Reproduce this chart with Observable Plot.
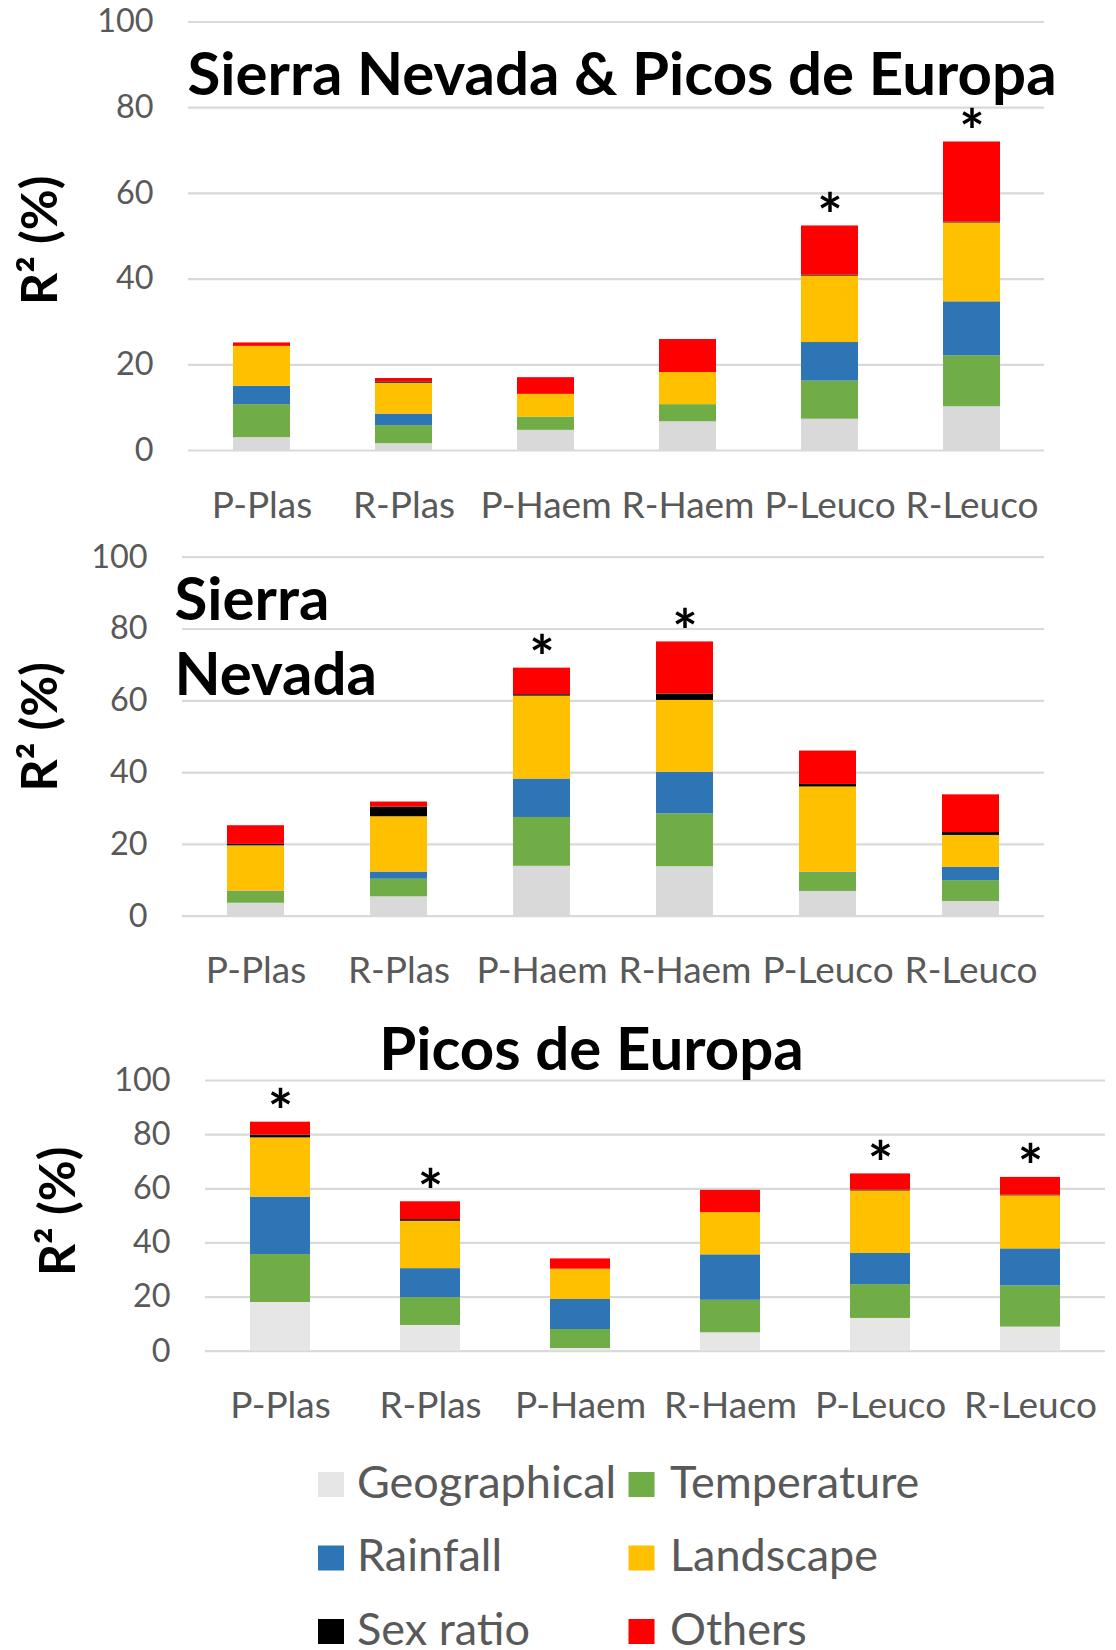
<!DOCTYPE html>
<html>
<head>
<meta charset="utf-8">
<script src="https://cdn.jsdelivr.net/npm/d3@7"></script>
<script src="https://cdn.jsdelivr.net/npm/@observablehq/plot@0.6"></script>
<style>
  body { margin: 0; background: #ffffff; }
  #wrap { position: relative; width: 1116px; height: 1650px; overflow: hidden; background: #ffffff; }
  #wrap > svg { position: absolute; left: 0; }
</style>
</head>
<body>
<div id="wrap"></div>
<script>
// ---------- data ----------
const categories = ["P-Plas", "R-Plas", "P-Haem", "R-Haem", "P-Leuco", "R-Leuco"];
const series = ["Geographical", "Temperature", "Rainfall", "Landscape", "Sex ratio", "Others"];
const yTicks = [0, 20, 40, 60, 80, 100];

// Panel 1: Sierra Nevada & Picos de Europa (R² %, per component)
const both_geographical = [3.0, 1.6, 4.7, 6.7, 7.3, 10.2];
const both_temperature  = [7.7, 4.2, 3.1, 4.0, 8.9, 11.9];
const both_rainfall     = [4.3, 2.7, 0.0, 0.0, 9.0, 12.6];
const both_landscape    = [9.3, 7.2, 5.3, 7.5, 15.5, 18.4];
const both_sexratio     = [0.0, 0.3, 0.0, 0.0, 0.2, 0.2];
const both_others       = [0.8, 0.8, 3.9, 7.7, 11.5, 18.7];
const both_significant  = [false, false, false, false, true, true];

// Panel 2: Sierra Nevada
const sn_geographical = [3.6, 5.4, 13.9, 13.8, 6.9, 4.1];
const sn_temperature  = [3.1, 4.9, 13.6, 14.7, 5.1, 5.8];
const sn_rainfall     = [0.2, 2.0, 10.7, 11.6, 0.2, 3.7];
const sn_landscape    = [12.7, 15.4, 23.1, 20.0, 23.8, 8.9];
const sn_sexratio     = [0.4, 2.7, 0.4, 1.8, 0.7, 0.8];
const sn_others       = [5.2, 1.4, 7.4, 14.5, 9.3, 10.5];
const sn_significant  = [false, false, true, true, false, false];

// Panel 3: Picos de Europa
const pe_geographical = [18.0, 9.5, 1.0, 6.8, 12.1, 8.9];
const pe_temperature  = [17.7, 10.3, 7.0, 12.0, 12.5, 15.2];
const pe_rainfall     = [21.2, 10.7, 11.1, 16.8, 11.5, 13.7];
const pe_landscape    = [21.9, 17.5, 11.2, 15.6, 23.1, 19.6];
const pe_sexratio     = [1.0, 0.6, 0.0, 0.0, 0.3, 0.2];
const pe_others       = [4.8, 6.6, 3.8, 8.2, 6.0, 6.6];
const pe_significant  = [true, true, false, false, true, true];

// ---------- styles ----------
const FONT = "Lato, 'Open Sans', sans-serif";
const TEXT_GREY = "#595959";
const colorsDark  = ["#D9D9D9", "#70AD47", "#2E75B6", "#FFC000", "#000000", "#FF0000"];
const colorsLight = ["#E7E6E6", "#70AD47", "#2E75B6", "#FFC000", "#000000", "#FF0000"];

const panels = [
  {
    title: "Sierra Nevada & Picos de Europa",
    values: [both_geographical, both_temperature, both_rainfall, both_landscape, both_sexratio, both_others],
    sig: both_significant,
    colors: colorsDark,
    top: 0, height: 540,
    marginTop: 21.5, marginBottom: 90, marginLeft: 188, marginRight: 72,
    titleOpts: {frameAnchor: "top-left", textAnchor: "start", lineAnchor: "bottom", dx: -1, dy: 73},
    ylabel: {dx: -148, dy: 4}
  },
  {
    title: "Sierra\nNevada",
    values: [sn_geographical, sn_temperature, sn_rainfall, sn_landscape, sn_sexratio, sn_others],
    sig: sn_significant,
    colors: colorsDark,
    top: 540, height: 460,
    marginTop: 16.7, marginBottom: 84.3, marginLeft: 182, marginRight: 72,
    titleOpts: {frameAnchor: "top-left", textAnchor: "start", lineAnchor: "top", lineHeight: 1.25, dx: -8, dy: 10},
    ylabel: {dx: -141.5, dy: -10}
  },
  {
    title: "Picos de Europa",
    values: [pe_geographical, pe_temperature, pe_rainfall, pe_landscape, pe_sexratio, pe_others],
    sig: pe_significant,
    colors: colorsLight,
    top: 1000, height: 430,
    marginTop: 80, marginBottom: 79.3, marginLeft: 205, marginRight: 11,
    titleOpts: {frameAnchor: "top", textAnchor: "middle", lineAnchor: "bottom", dx: -64, dy: -11},
    ylabel: {dx: -147, dy: -4.5}
  }
];

const wrap = document.getElementById("wrap");

for (const p of panels) {
  const rows = [];
  categories.forEach((c, i) => {
    p.values.forEach((arr, s) => rows.push({category: c, series: series[s], value: arr[i]}));
  });
  const totals = categories.map((c, i) => ({
    category: c,
    total: d3.sum(p.values, a => a[i]),
    sig: p.sig[i]
  }));

  const chart = Plot.plot({
    width: 1116,
    height: p.height,
    marginTop: p.marginTop,
    marginBottom: p.marginBottom,
    marginLeft: p.marginLeft,
    marginRight: p.marginRight,
    style: {fontFamily: FONT, background: "transparent", overflow: "visible"},
    x: {domain: categories, paddingInner: 0.6, paddingOuter: 0.3},
    y: {domain: [0, 100]},
    color: {domain: series, range: p.colors},
    marks: [
      Plot.ruleY(yTicks, {stroke: "#D9D9D9", strokeWidth: 2.2}),
      Plot.barY(rows, {x: "category", y: "value", fill: "series"}),
      Plot.axisY({ticks: yTicks, tickSize: 0, tickPadding: 35, fontSize: 32.4, color: TEXT_GREY, fill: TEXT_GREY, label: null}),
      Plot.axisX({tickSize: 0, tickPadding: 41, fontSize: 37, color: TEXT_GREY, fill: TEXT_GREY, label: null}),
      Plot.text(totals.filter(d => d.sig), {
        x: "category", y: "total", text: () => "*",
        lineAnchor: "bottom", dy: 11, fontSize: 60, fontWeight: "bold", fill: "#000000"
      }),
      Plot.text([p.title], {
        text: d => d, fontSize: 60, fontWeight: "bold", fill: "#000000",
        ...p.titleOpts
      }),
      Plot.text(["R² (%)"], {
        text: d => d, frameAnchor: "left", rotate: -90, textAnchor: "middle", lineAnchor: "middle",
        fontSize: 50, fontWeight: "bold", fill: "#000000",
        dx: p.ylabel.dx, dy: p.ylabel.dy
      })
    ]
  });
  chart.style.top = p.top + "px";
  wrap.appendChild(chart);
}

// ---------- legend (below the charts) ----------
const legendTop = 1430;
const legend = d3.create("svg")
  .attr("width", 1116)
  .attr("height", 1650 - legendTop)
  .style("top", legendTop + "px")
  .style("font-family", FONT);
const swatchX = [318, 628.5];
const textX = [357, 670];
const rowTop = 42;     // swatch top of first row (relative to legend svg)
const rowStep = 73.5;
series.forEach((s, i) => {
  const col = i % 2, row = Math.floor(i / 2);
  const yTop = rowTop + row * rowStep;
  legend.append("rect")
    .attr("x", swatchX[col]).attr("y", yTop)
    .attr("width", 26).attr("height", 25)
    .attr("fill", colorsLight[i]);
  legend.append("text")
    .attr("x", textX[col]).attr("y", yTop + 25.7)
    .attr("font-size", 45)
    .attr("fill", TEXT_GREY)
    .text(s);
});
wrap.appendChild(legend.node());
</script>
</body>
</html>
